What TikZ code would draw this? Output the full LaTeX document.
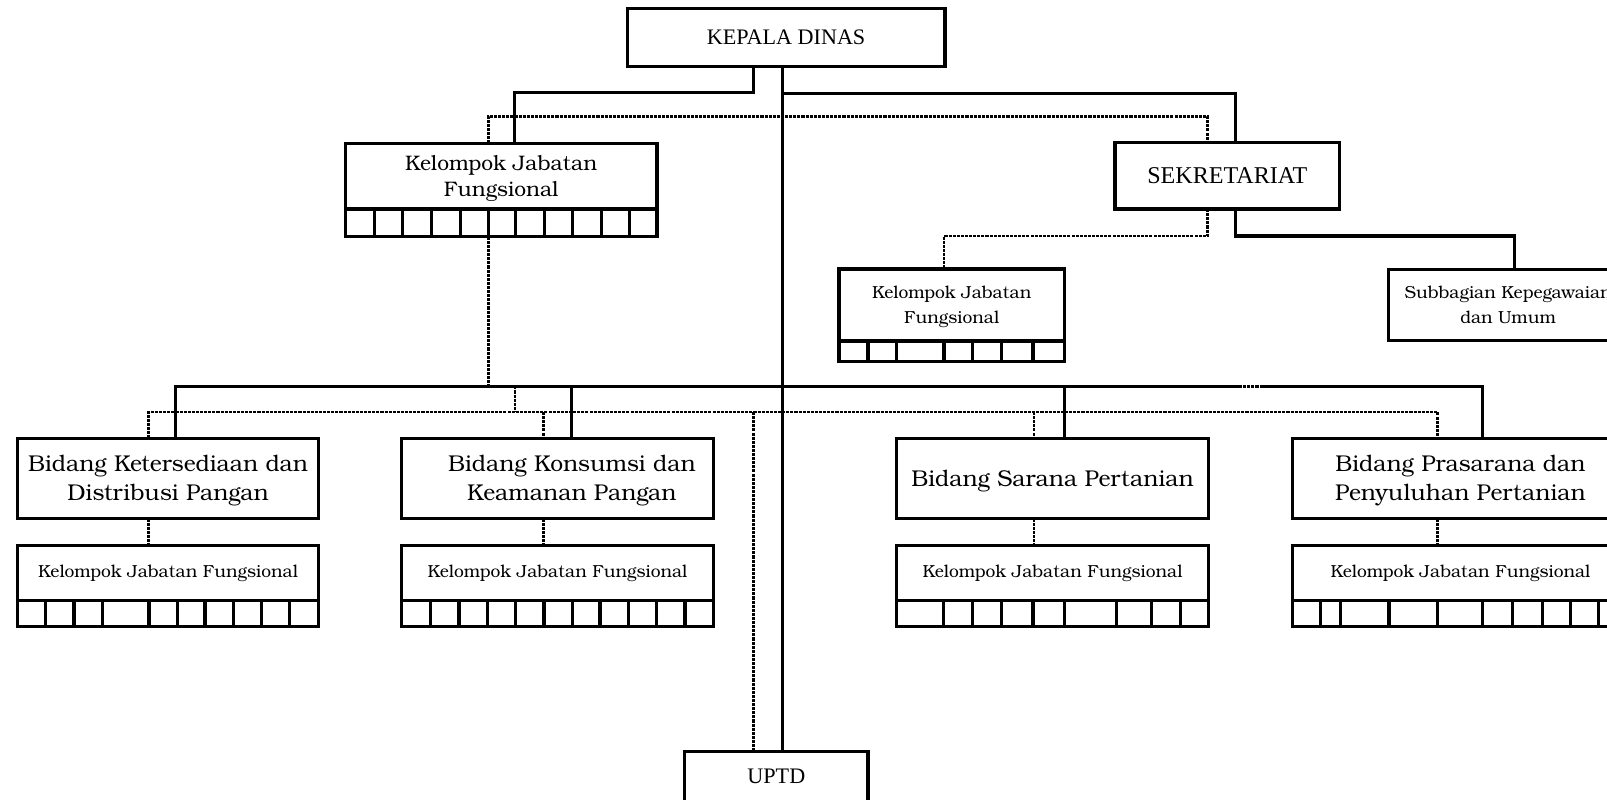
\documentclass[tikz,border=0pt]{standalone}
\usepackage{fontspec}
\newfontfamily\bk{texgyrebonum-regular.otf}
\newfontfamily\tm{Liberation Serif}
\tikzset{
  box/.style={draw, line width=3.1pt, inner sep=0pt, outer sep=0pt, anchor=north west, align=center, fill=white},
  conn/.style={line width=3.1pt},
  dotl/.style={line width=2.6pt, dash pattern=on 3pt off 1pt},
  bigtxt/.style={font=\bk\fontsize{22.3}{29}\selectfont},
  midtxt/.style={font=\bk\fontsize{17}{24}\selectfont},
  toptxt/.style={font=\tm\fontsize{21.6}{24}\selectfont},
}
\begin{document}
\begin{tikzpicture}[x=1pt, y=-1pt]
\fill[white] (0,0) rectangle (1568,780);
\useasboundingbox (0,0) rectangle (1568,780);

% ---------- nodes ----------
\node[box, toptxt, minimum width=310pt, minimum height=57pt] (kd) at (612,8) {KEPALA DINAS};
\node[box, font=\bk\fontsize{20.5}{25.5}\selectfont, minimum width=304pt, minimum height=64pt] (kjf0) at (337,140) {\rule{0pt}{19.5pt}Kelompok Jabatan\\Fungsional};
\node[box, minimum width=304pt, minimum height=27pt] (kjf0c) at (337,204) {};
\node[box, font=\tm\fontsize{23.5}{26}\selectfont, minimum width=219pt, minimum height=65pt] (sek) at (1088,139) {SEKRETARIAT};
\node[box, midtxt, minimum width=220pt, minimum height=70.2pt] (kjf1) at (818.6,262.5) {\rule{0pt}{15.5pt}Kelompok Jabatan\\Fungsional};
\node[box, minimum width=220pt, minimum height=20.3pt] (kjf1c) at (818.6,332.7) {};
\node[box, midtxt, minimum width=233pt, minimum height=69pt] (sub) at (1355,263) {Subbagian Kepegawaian\\dan Umum};

\node[box, bigtxt, minimum width=294pt, minimum height=78.5pt] (b1) at (17,427.5) {\rule{0pt}{20.5pt}Bidang Ketersediaan dan\\Distribusi Pangan};
\node[box, midtxt, minimum width=294pt, minimum height=54pt] (k1) at (17,532) {Kelompok Jabatan Fungsional};
\node[box, minimum width=294pt, minimum height=25.5pt] (k1c) at (17,586) {};

\node[box, bigtxt, minimum width=304pt, minimum height=78.5pt] (b2) at (392,427.5) {\rule{0pt}{20.5pt}\hspace*{28pt}Bidang Konsumsi dan\\\hspace*{28pt}Keamanan Pangan};
\node[box, midtxt, minimum width=304pt, minimum height=54pt] (k2) at (392,532) {Kelompok Jabatan Fungsional};
\node[box, minimum width=304pt, minimum height=25.5pt] (k2c) at (392,586) {};

\node[box, bigtxt, minimum width=304pt, minimum height=78.5pt] (b3) at (875,427.5) {\rule{0pt}{20.5pt}Bidang Sarana Pertanian};
\node[box, midtxt, minimum width=304pt, minimum height=54pt] (k3) at (875,532) {Kelompok Jabatan Fungsional};
\node[box, minimum width=304pt, minimum height=25.5pt] (k3c) at (875,586) {};

\node[box, bigtxt, minimum width=328pt, minimum height=78.5pt] (b4) at (1261,427.5) {\rule{0pt}{20.5pt}Bidang Prasarana dan\\Penyuluhan Pertanian};
\node[box, midtxt, minimum width=328pt, minimum height=54pt] (k4) at (1261,532) {Kelompok Jabatan Fungsional};
\node[box, minimum width=328pt, minimum height=25.5pt] (k4c) at (1261,586) {};

\node[box, toptxt, minimum width=179pt, minimum height=52pt] (uptd) at (668,733) {\raisebox{2.5pt}{UPTD}};

% ---------- cell dividers ----------
\foreach \x in {365.6,393.1,421,449,476.5,503.2,531.1,558.6,586.6,614.1}
  \draw[conn] (kjf0c.north -| \x,0) -- (kjf0c.south -| \x,0);
\foreach \x in {847,875,921,949,977,1008}
  \draw[conn] (kjf1c.north -| \x,0) -- (kjf1c.south -| \x,0);
\foreach \x in {44.6,72.2,100.2,145.4,173,200,227.6,255.3,282.3}
  \draw[conn] (k1c.north -| \x,0) -- (k1c.south -| \x,0);
\foreach \x in {420.2,447.9,475.5,503.2,530.8,558.4,585.4,613,640.8,668.4}
  \draw[conn] (k2c.north -| \x,0) -- (k2c.south -| \x,0);
\foreach \x in {920.6,949.1,977.2,1007.9,1038.6,1089.3,1123.2,1151.7}
  \draw[conn] (k3c.north -| \x,0) -- (k3c.south -| \x,0);
\foreach \x in {1288.3,1307.8,1355.3,1402.8,1446.7,1476.1,1504.7,1532.7,1559.8}
  \draw[conn] (k4c.north -| \x,0) -- (k4c.south -| \x,0);

% ---------- dotted connectors ----------
\draw[dotl] (kjf0.north -| 476.5,0) |- (1178.2,113.5) -- (sek.north -| 1178.2,0);
\draw[dotl] (sek.south -| 1178.2,0) |- (921,230.3) -- (kjf1.north -| 921,0);
\draw[dotl] (kjf0c.south -| 476.5,0) -- (476.5,377) -- (502.5,377) -- (502.5,402);
\draw[dotl] (b1.north -| 144.7,0) |- (1402.8,402) -- (b4.north -| 1402.8,0);
\draw[dotl] (530,402) -- (b2.north -| 530,0);
\draw[dotl] (1008.8,402) -- (b3.north -| 1008.8,0);
\draw[dotl] (735,402) -- (uptd.north -| 735,0);
\draw[dotl] (b1.south -| 144.7,0) -- (k1.north -| 144.7,0);
\draw[dotl] (b2.south -| 530,0) -- (k2.north -| 530,0);
\draw[dotl] (b3.south -| 1008.8,0) -- (k3.north -| 1008.8,0);
\draw[dotl] (b4.south -| 1402.8,0) -- (k4.north -| 1402.8,0);
\draw[dotl] (1209,377) -- (1232,377);

% ---------- solid connectors ----------
\draw[conn] (kd.south -| 735.2,0) |- (502.4,90.5) -- (kjf0.north -| 502.4,0);
\draw[conn] (kd.south -| 763.5,0) -- (uptd.north -| 763.5,0);
\draw[conn] (763.5,91) -| (sek.north -| 1205.6,0);
\draw[conn] (sek.south -| 1205.6,0) |- (1477.5,230.3) -- (sub.north -| 1477.5,0);
\draw[conn] (b1.north -| 171,0) |- (1209,377);
\draw[conn] (1232,377) -| (b4.north -| 1446.7,0);
\draw[conn] (558,377) -- (b2.north -| 558,0);
\draw[conn] (1038.6,377) -- (b3.north -| 1038.6,0);
\end{tikzpicture}
\end{document}
